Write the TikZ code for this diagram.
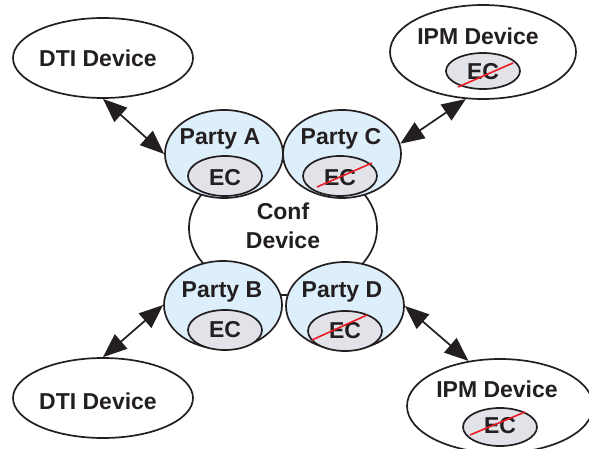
\documentclass[tikz,border=0pt]{standalone}
\usepackage{fontspec}
\setmainfont{Liberation Sans}
\usetikzlibrary{shapes.geometric,arrows.meta,calc}
\definecolor{partyfill}{RGB}{221,239,251}
\definecolor{ecfill}{RGB}{226,227,233}
\definecolor{ink}{RGB}{35,31,32}
\definecolor{slashred}{RGB}{237,28,36}
\begin{document}
\begin{tikzpicture}[x=1pt,y=-1pt,
  oval/.style 2 args={ellipse,draw=ink,line width=1.7pt,fill=white,inner sep=0pt,minimum width=#1pt,minimum height=#2pt},
  party/.style={oval={118}{88},fill=partyfill},
  ecoval/.style={oval={74}{40},fill=ecfill},
  lbl/.style={font=\fontsize{23}{25}\selectfont\bfseries,text=ink,inner sep=0pt,anchor=base},
  dbl/.style={{Triangle[length=24pt,width=19pt]}-{Triangle[length=24pt,width=19pt]},draw=ink,line width=1.7pt},
  cross/.style={draw=slashred,line width=1.6pt}]
\useasboundingbox (0,0) rectangle (589,449);
% conference device
\node[oval={188}{134}] (conf) at (283,228) {};
% parties
\node[party] (pA) at (224,154) {};
\node[party] (pC) at (342,154) {};
\node[party] (pB) at (223,305) {};
\node[party] (pD) at (345,306) {};
\node[ecoval] (eA) at (225,176) {};
\node[ecoval] (eC) at (340,176) {};
\node[ecoval] (eB) at (225,330) {};
\node[ecoval] (eD) at (345,331) {};
% outer devices
\node[oval={180}{80}] (dtiA) at (103,58) {};
\node[oval={180}{80}] (dtiB) at (103,398) {};
\node[oval={186}{94}] (ipmA) at (483,52) {};
\node[oval={186}{94}] (ipmB) at (500,406) {};
\node[oval={74}{36},fill=ecfill] (iA) at (483,71) {};
\node[oval={74}{38},fill=ecfill] (iB) at (500,427) {};
% labels
\node[lbl] (tConf) at (283,220) {Conf};
\node[lbl] (tDev) at (283,248) {Device};
\node[lbl] (tA) at (220,145) {Party A};
\node[lbl] (tC) at (341,145) {Party C};
\node[lbl] (tB) at (222,297) {Party B};
\node[lbl] (tD) at (342,297) {Party D};
\node[lbl] (teA) at (225,186) {EC};
\node[lbl] (teC) at (340,186) {EC};
\node[lbl] (teB) at (225,337) {EC};
\node[lbl] (teD) at (345,338) {EC};
\node[lbl] (tdA) at (98,67) {DTI Device};
\node[lbl] (tdB) at (98,409) {DTI Device};
\node[lbl] (tiA) at (478,45) {IPM Device};
\node[lbl] (tiB) at (497,397) {IPM Device};
\node[lbl] (tieA) at (483,80) {EC};
\node[lbl] (tieB) at (500,433) {EC};
% crossing-out slashes
\draw[cross] ([shift={(-23,11)}]eC.center) -- ([shift={(32,-13)}]eC.center);
\draw[cross] ([shift={(-33,9)}]eD.center) -- ([shift={(22,-16)}]eD.center);
\draw[cross] ([shift={(-25,16)}]iA.center) -- ([shift={(30,-8)}]iA.center);
\draw[cross] ([shift={(-30,8)}]iB.center) -- ([shift={(25,-15)}]iB.center);
% connectors
\draw[dbl] (dtiA.south) -- (pA.west);
\draw[dbl] (pB.west) -- (dtiB.north);
\draw[dbl] (ipmA.250) -- (pC.10);
\draw[dbl] (pD.east) -- (ipmB.125);
\end{tikzpicture}
\end{document}
